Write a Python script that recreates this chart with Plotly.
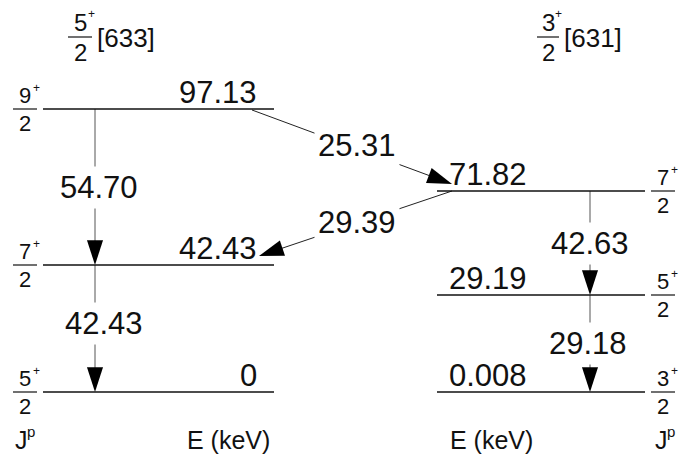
import plotly.graph_objects as go

# ---- level scheme data -------------------------------------------------
band_labels = ["[633]", "[631]"]
band_k_num = ["5", "3"]          # K = num/2, parity +
left_energies = ["97.13", "42.43", "0"]
left_spin_num = ["9", "7", "5"]
right_energies = ["71.82", "29.19", "0.008"]
right_spin_num = ["7", "5", "3"]

# gamma transitions inside each band (upper level index -> lower level index)
left_gammas = ["54.70", "42.43"]
right_gammas = ["42.63", "29.18"]
# inter-band transitions
cross_out = "25.31"   # left 9/2+ -> right 7/2+
cross_in = "29.39"    # right 7/2+ -> left 7/2+

# ---- drawing layout (schematic, canvas units) --------------------------
W, H = 683, 456
left_rows = [109, 265, 392]
right_rows = [191, 295, 392]
left_span = (43, 274)
right_span = (437, 645)
left_gamma_x = 95
right_gamma_x = 590
left_spin_x = 25
right_spin_x = 663

FONT = "Liberation Sans, Arial, Helvetica, sans-serif"
INK = "#111111"
ARROW = "#555555"
E_SIZE = 31
SPIN_SIZE = 22
HEAD = 26

fig = go.Figure()
shapes = []
ann = []


def level_line(x0, x1, y):
    shapes.append(dict(type="line", xref="x", yref="y", x0=x0, x1=x1, y0=y, y1=y,
                       line=dict(color=INK, width=1.4)))


def text(x, y, s, size, xanchor="center", yanchor="middle", bg=None, pad=1):
    ann.append(dict(x=x, y=y, xref="x", yref="y", text=s, showarrow=False,
                    xanchor=xanchor, yanchor=yanchor,
                    font=dict(family=FONT, size=size, color=INK),
                    bgcolor=bg, borderpad=pad))


def fraction(xc, ybar, num, size, half=12):
    shapes.append(dict(type="line", xref="x", yref="y", x0=xc - half, x1=xc + half,
                       y0=ybar, y1=ybar, line=dict(color=INK, width=1.2)))
    text(xc, ybar, num, size, yanchor="bottom", pad=0)
    text(xc, ybar + 1, "2", size, yanchor="top", pad=0)
    text(xc + half - 1, ybar - round(size * 0.95), "+", 12, xanchor="center", pad=0)


def arrow(x0, y0, x1, y1, color=ARROW):
    # shaft plus a filled head aligned with the shaft direction
    fig.add_trace(go.Scatter(
        x=[x0, x1], y=[y0, y1], mode="lines+markers", hoverinfo="skip",
        line=dict(color=color, width=1),
        marker=dict(symbol="arrow", size=[0, HEAD], angleref="previous",
                    color="#000000", opacity=1, line=dict(width=0)),
    ))


# levels
for y in left_rows:
    level_line(*left_span, y)
for y in right_rows:
    level_line(*right_span, y)

# intra-band gamma arrows
for i, g in enumerate(left_gammas):
    arrow(left_gamma_x, left_rows[i], left_gamma_x, left_rows[i + 1])
for i, g in enumerate(right_gammas):
    arrow(right_gamma_x, right_rows[i], right_gamma_x, right_rows[i + 1])

# inter-band arrows
arrow(left_span[1] - 22, left_rows[0] + 1, 452, right_rows[0] - 7, color="#222222")
arrow(452, right_rows[0], 259, left_rows[1] - 9, color="#222222")

# gamma labels (white box breaks the line)
text(99, 187, left_gammas[0], E_SIZE, bg="white", pad=3)
text(104, 323, left_gammas[1], E_SIZE, bg="white", pad=3)
text(590, 243, right_gammas[0], E_SIZE, bg="white", pad=3)
text(588, 343, right_gammas[1], E_SIZE, bg="white", pad=3)
text(357, 145, cross_out, E_SIZE, bg="white", pad=3)
text(357, 222, cross_in, E_SIZE, bg="white", pad=3)

# level energies
for y, e in zip(left_rows, left_energies):
    text(258, y + 2, e, E_SIZE, xanchor="right", yanchor="bottom", pad=0)
for y, e in zip(right_rows, right_energies):
    text(448, y + 2, e, E_SIZE, xanchor="left", yanchor="bottom", pad=0)

# spins
for y, n in zip(left_rows, left_spin_num):
    fraction(left_spin_x, y, n, SPIN_SIZE)
for y, n in zip(right_rows, right_spin_num):
    fraction(right_spin_x, y, n, SPIN_SIZE)

# band headers (Nilsson labels)
fraction(80, 37, band_k_num[0], SPIN_SIZE + 2, half=12)
text(95, 38, band_labels[0], 26, xanchor="left")
fraction(548, 37, band_k_num[1], SPIN_SIZE + 2, half=11)
text(562, 38, band_labels[1], 26, xanchor="left")


# column captions
def jp(x, y):
    text(x, y, "J", 25, xanchor="left")
    text(x + 13, y - 9, "p", 15, xanchor="left", pad=0)


jp(13, 440)
text(185, 440, "E (keV)", 25, xanchor="left")
text(448, 440, "E (keV)", 25, xanchor="left")
jp(653, 440)

fig.update_layout(
    width=W, height=H, autosize=False,
    margin=dict(l=0, r=0, t=0, b=0),
    paper_bgcolor="white", plot_bgcolor="white",
    xaxis=dict(range=[0, W], visible=False, fixedrange=True),
    yaxis=dict(range=[H, 0], visible=False, fixedrange=True),
    shapes=shapes, annotations=ann, showlegend=False,
)

fig.write_html("out.html")
